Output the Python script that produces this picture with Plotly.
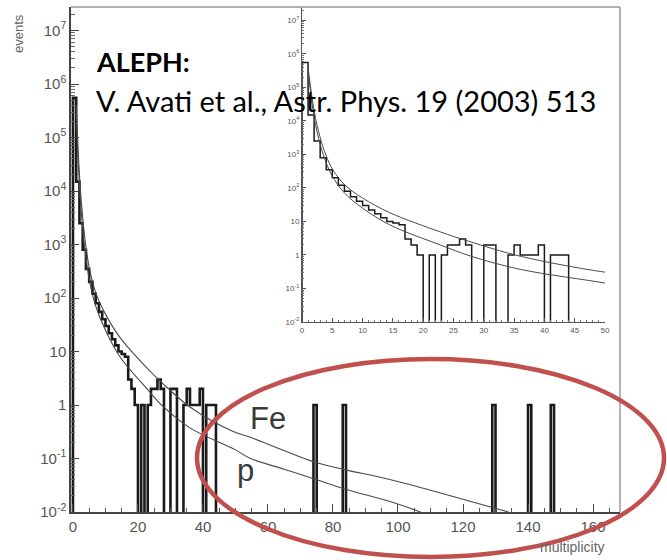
import plotly.graph_objects as go

# ---------------- data ----------------
# histogram counts per unit multiplicity bin, bins 0..49
hist_counts_low = [550000, 15000, 2500, 800, 350, 200, 120, 80, 55, 40,
                   30, 22, 17, 13, 10, 9, 8, 3, 2, 1,
                   0, 1, 0, 1, 2, 2, 3, 2, 0, 0,
                   2, 2, 0, 0, 1, 2, 1, 1, 1, 2,
                   0, 1, 1, 1, 0, 0, 0, 0, 0, 0]
# single-event bins at high multiplicity
spike_bins = [74, 83, 129, 140, 147]
spike_counts = [1, 1, 1, 1, 1]

# model curves (multiplicity, events)
fe_x = [1, 2, 3, 4, 5.1, 7, 10, 14.5, 22.8, 27.5, 36.1, 49.3, 54.6, 65, 75, 83.6, 97.8, 115, 134]
fe_y = [4e5, 2e4, 3.2e3, 900, 347, 126, 50, 18.2, 4.9, 2.57, 0.91, 0.32, 0.25, 0.14, 0.083, 0.062, 0.040, 0.021, 0.010]
p_x = [1, 2, 3, 4, 5, 7, 10, 14.5, 22.8, 27.8, 36.1, 50, 54.6, 65, 75, 83.6, 97.8, 107]
p_y = [3e5, 1.3e4, 2e3, 560, 224, 71, 25, 7.9, 2.0, 0.93, 0.37, 0.145, 0.10, 0.063, 0.040, 0.027, 0.0155, 0.010]

x_ticks_main = [0, 20, 40, 60, 80, 100, 120, 140, 160]
x_ticks_inset = [0, 5, 10, 15, 20, 25, 30, 35, 40, 45, 50]
y_tick_vals = [1e-2, 1e-1, 1, 10, 1e2, 1e3, 1e4, 1e5, 1e6, 1e7]
y_tick_text = ["10<sup>-2</sup>", "10<sup>-1</sup>", "1", "10", "10<sup>2</sup>",
               "10<sup>3</sup>", "10<sup>4</sup>", "10<sup>5</sup>", "10<sup>6</sup>", "10<sup>7</sup>"]

# ---------------- build histogram ----------------
NBINS = 170
counts = [0] * NBINS
for i, c in enumerate(hist_counts_low):
    counts[i] = c
for b, c in zip(spike_bins, spike_counts):
    counts[b] = c
FLOOR = 1e-4  # empty bins drawn below the axis (clipped)
hx = [0]
hy = [FLOOR]
for i, c in enumerate(counts):
    hx.append(i)
    hy.append(c if c > 0 else FLOOR)
hx.append(NBINS)
hy.append(FLOOR)

W, H = 667, 560
L, R, T, B = 71, 47, 7, 48
PW, PH = W - L - R, H - T - B


def px(x):
    return (x - L) / PW


def py(y):
    return (H - B - y) / PH


fig = go.Figure()
HCOL = "#1a1a1a"
CCOL = "#4a4a4a"
for xa, ya, hw, cw in [("x", "y", 2.6, 1.1), ("x2", "y2", 1.5, 1.0)]:
    fig.add_trace(go.Scatter(x=hx, y=hy, mode="lines", line=dict(color=HCOL, width=hw, shape="hv"),
                             xaxis=xa, yaxis=ya, showlegend=False, hoverinfo="skip"))
    fig.add_trace(go.Scatter(x=fe_x, y=fe_y, mode="lines", line=dict(color=CCOL, width=cw, shape="spline"),
                             xaxis=xa, yaxis=ya, showlegend=False, hoverinfo="skip"))
    fig.add_trace(go.Scatter(x=p_x, y=p_y, mode="lines", line=dict(color=CCOL, width=cw, shape="spline"),
                             xaxis=xa, yaxis=ya, showlegend=False, hoverinfo="skip"))

minor_log = [k * 10 ** n for n in range(-2, 8) for k in range(2, 10)]
TF = dict(family="Liberation Sans, Arial", size=15, color="#555")
TFs = dict(family="Liberation Sans, Arial", size=8, color="#555")

fig.update_layout(
    width=W, height=H, margin=dict(l=L, r=R, t=T, b=B),
    paper_bgcolor="white", plot_bgcolor="white",
    xaxis=dict(domain=[0, 1], range=[-0.6, 168.3], tickvals=x_ticks_main, ticks="inside", ticklen=8,
               tickcolor="#444", showline=True, linecolor="#444", linewidth=1.5, showgrid=False,
               zeroline=False, tickfont=TF,
               minor=dict(ticks="inside", dtick=5, ticklen=4, tickcolor="#555", showgrid=False)),
    yaxis=dict(domain=[0, 1], type="log", range=[-2, 7.44], tickvals=y_tick_vals, ticktext=y_tick_text,
               ticks="inside", ticklen=8, tickcolor="#444", showline=True, linecolor="#444", linewidth=1.5,
               showgrid=False, zeroline=False, tickfont=TF,
               minor=dict(ticks="inside", tickvals=minor_log, ticklen=4, tickcolor="#666", showgrid=False)),
    xaxis2=dict(domain=[px(302), px(605)], anchor="y2", range=[0, 50], tickvals=x_ticks_inset,
                ticks="inside", ticklen=4, tickcolor="#555", showline=True, linecolor="#555", linewidth=1,
                showgrid=False, zeroline=False, tickfont=TFs,
                minor=dict(ticks="inside", dtick=1, ticklen=2, tickcolor="#777", showgrid=False)),
    yaxis2=dict(domain=[py(322), 1], anchor="x2", type="log", range=[-2, 7.4], tickvals=y_tick_vals,
                ticktext=y_tick_text, ticks="inside", ticklen=4, tickcolor="#555", showline=True,
                linecolor="#555", linewidth=1, showgrid=False, zeroline=False, tickfont=TFs,
                minor=dict(ticks="inside", tickvals=minor_log, ticklen=2, tickcolor="#777", showgrid=False)),
)

# frame top / right (lighter)
fig.add_shape(type="line", xref="paper", yref="paper", x0=0, x1=1, y0=1, y1=1, line=dict(color="#999", width=1.5))
fig.add_shape(type="line", xref="paper", yref="paper", x0=1, x1=1, y0=0, y1=1, line=dict(color="#999", width=1.5))

# red ellipse
fig.add_shape(type="circle", xref="paper", yref="paper",
              x0=px(197), x1=px(664), y0=py(557), y1=py(359),
              line=dict(color="#C0504D", width=4.5))

ann = []
ann.append(dict(text="<b>ALEPH:</b>", x=px(94), y=py(62), xanchor="left", yanchor="middle",
                font=dict(family="Lato, Carlito, Calibri", size=27, color="black")))
ann.append(dict(text="V. Avati et al., Astr. Phys. 19 (2003) 513", x=px(94), y=py(100), xanchor="left",
                yanchor="middle", font=dict(family="Lato, Carlito, Calibri", size=29, color="black")))
ann.append(dict(text="Fe", x=px(268), y=py(418), xanchor="center", yanchor="middle",
                font=dict(family="Liberation Sans, Arial", size=31, color="#3a3a3a")))
ann.append(dict(text="p", x=px(245), y=py(470), xanchor="center", yanchor="middle",
                font=dict(family="Liberation Sans, Arial", size=31, color="#3a3a3a")))
ann.append(dict(text="events", x=px(18), y=py(34), xanchor="center", yanchor="middle", textangle=-90,
                font=dict(family="Liberation Sans, Arial", size=13, color="#666")))
ann.append(dict(text="multiplicity", x=px(572), y=py(547), xanchor="center", yanchor="middle",
                font=dict(family="Liberation Sans, Arial", size=14, color="#666")))
for a in ann:
    a.update(xref="paper", yref="paper", showarrow=False)
fig.update_layout(annotations=ann)

fig.write_html("out.html")
